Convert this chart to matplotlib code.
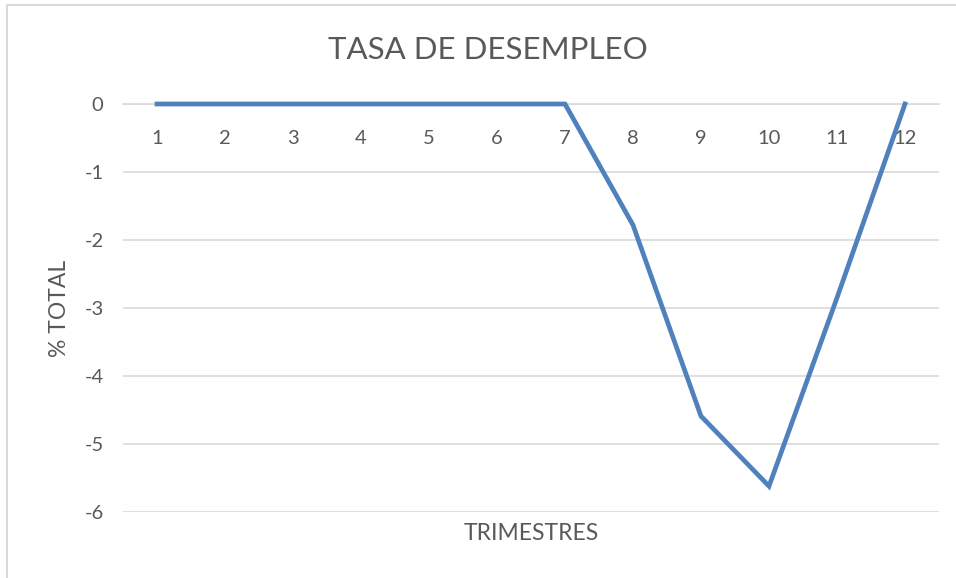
import matplotlib
matplotlib.use("Agg")
import matplotlib.pyplot as plt
from matplotlib.patches import Rectangle

plt.rcParams['font.family'] = ['Lato', 'DejaVu Sans']

trimestres = [1, 2, 3, 4, 5, 6, 7, 8, 9, 10, 11, 12]
tasa = [0, 0, 0, 0, 0, 0, 0, -1.78, -4.59, -5.62, -2.85, 0]
yticks = [0, -1, -2, -3, -4, -5, -6]

W, H = 956, 578
fig = plt.figure(figsize=(W / 100, H / 100), dpi=100)
fig.patch.set_facecolor('white')

# chart-area border (partially outside the picture, like the reference)
fig.patches.append(Rectangle((7 / W, -0.05), 1.2, 1 - 5 / H + 0.05,
                             transform=fig.transFigure, fill=False,
                             edgecolor='#D9D9D9', linewidth=1.5))

ax = fig.add_axes([123 / W, 1 - 512 / H, (939 - 123) / W, (512 - 104) / H])
ax.plot(trimestres, tasa, color='#4F81BD', linewidth=3.4, clip_on=False,
        solid_joinstyle='miter', zorder=3)

ax.set_xlim(0.5, 12.5)
ax.set_ylim(-6, 0)
ax.set_yticks(yticks)
ax.set_yticklabels([str(v) for v in yticks])
ax.set_xticks(trimestres)
ax.set_xticklabels([str(v) for v in trimestres])

ax.grid(axis='y', color='#D9D9D9', linewidth=1.2)
ax.set_axisbelow(True)
for s in ['top', 'right', 'left']:
    ax.spines[s].set_visible(False)
ax.spines['bottom'].set_position(('data', 0))
ax.spines['bottom'].set_color('#D9D9D9')
ax.spines['bottom'].set_linewidth(1.2)
ax.tick_params(axis='both', length=0, colors='#595959', labelsize=14.5)
ax.tick_params(axis='x', pad=19)
ax.tick_params(axis='y', pad=14)

fig.text(488 / W, 1 - 50 / H, 'TASA DE DESEMPLEO', ha='center', va='center',
         fontsize=22.5, color='#595959')
fig.text(60 / W, 1 - 308 / H, '% TOTAL', ha='center', va='center',
         rotation=90, fontsize=16.5, color='#595959')
fig.text(531 / W, 1 - 533 / H, 'TRIMESTRES', ha='center', va='center',
         fontsize=16.5, color='#595959')

fig.savefig('out.png', dpi=100, facecolor='white')
